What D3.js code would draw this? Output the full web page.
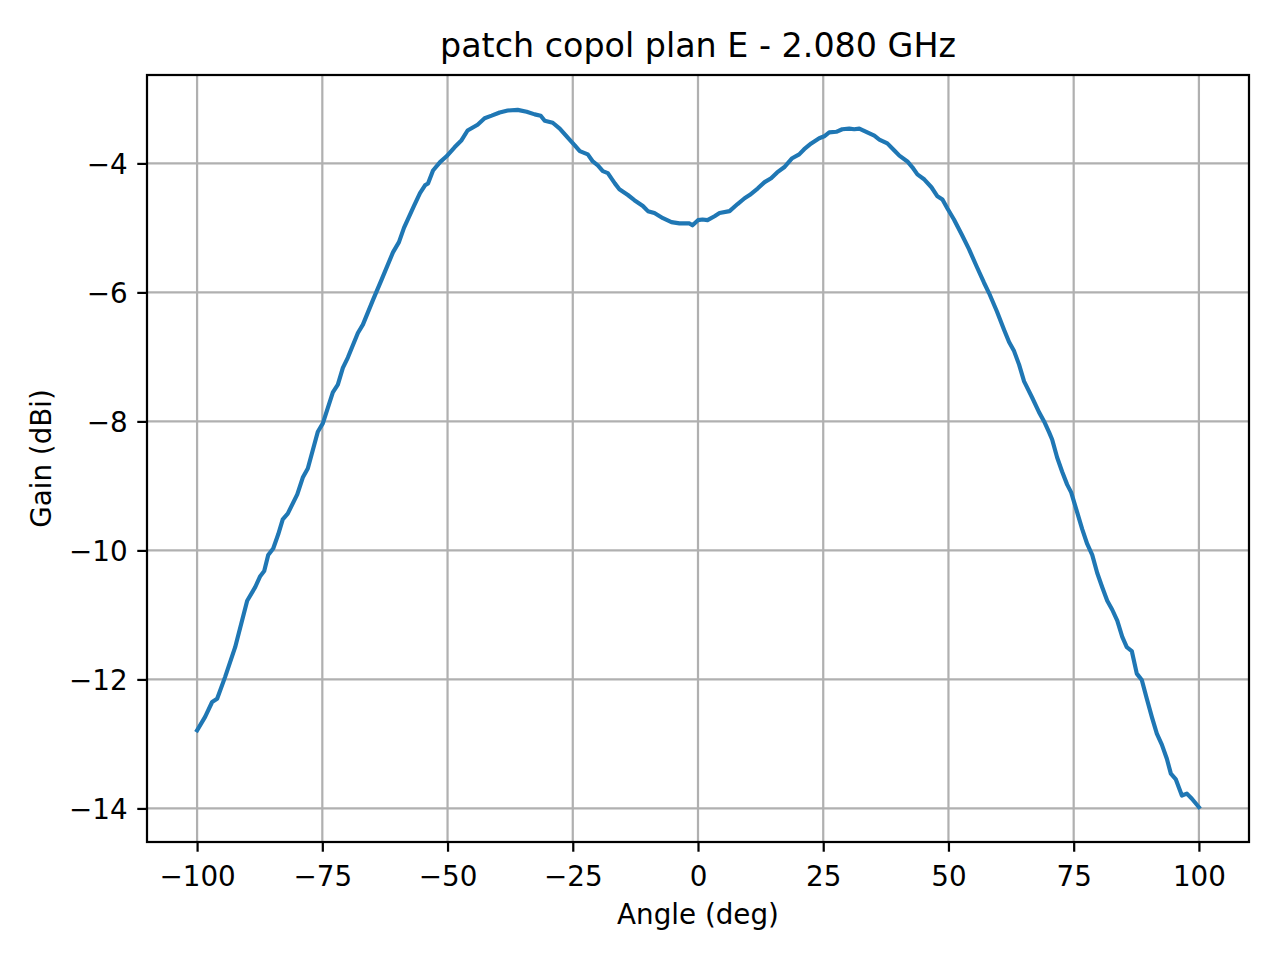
<!DOCTYPE html>
<html>
<head>
<meta charset="utf-8">
<script src="https://cdn.jsdelivr.net/npm/d3@7"></script>
<style>
  body { margin: 0; background: #fff; }
  svg { display: block; font-family: "DejaVu Sans", sans-serif; }
</style>
</head>
<body>
<svg id="chart" width="1280" height="960"></svg>
<script>
var angles = [
  -100, -98.4, -97, -96, -94.4, -92.4, -90, -88.4, -87.4, -86.6,
  -85.8, -84.8, -83.8, -82.9, -81.9, -80, -78.9, -77.9, -75.9, -74.9,
  -72.9, -71.9, -70.9, -69.9, -67.9, -66.9, -64.9, -63.1, -60.9, -59.7,
  -58.7, -56.7, -55.5, -54.5, -53.9, -52.9, -51.5, -50.2, -48.6, -47.2,
  -46, -44, -42.6, -41.2, -39.6, -38, -36, -34.2, -32.6, -31.4,
  -30.6, -29, -27.6, -26, -24.6, -23.6, -22, -21, -20, -19,
  -18, -16.6, -15.7, -14, -12.7, -11, -10, -8.7, -7, -5.3,
  -3.7, -1.7, -1.1, 0, 0.9, 1.9, 3.3, 4.3, 6.3, 7.9,
  9.3, 10.3, 11.9, 13.3, 14.6, 15.8, 17.2, 18.8, 20.2, 21.2,
  22.6, 24.2, 25.2, 26.2, 27.6, 28.8, 30.2, 31.2, 32.2, 33.8,
  35.2, 36.2, 37.8, 39.2, 40.2, 41.8, 42.8, 43.8, 45.2, 46.6,
  47.8, 48.8, 49.8, 51.1, 52.7, 54.1, 55.7, 57.1, 58.1, 59.7,
  61.1, 62.1, 63.1, 64.1, 65.1, 66.7, 68.1, 69.1, 70.1, 70.7,
  71.7, 72.7, 73.7, 74.5, 75.7, 76.7, 77.7, 78.7, 79.7, 80.7,
  81.7, 82.7, 83.7, 84.7, 85.6, 86.6, 87.6, 88.6, 89.6, 90.6,
  91.6, 92.6, 93.6, 94.4, 95.4, 96.6, 97.6, 98.6, 100
];
var gains = [
  -12.79, -12.58, -12.35, -12.30, -11.96, -11.50, -10.78, -10.57, -10.40, -10.32,
  -10.07, -9.97, -9.75, -9.52, -9.43, -9.13, -8.87, -8.73, -8.16, -8.03,
  -7.55, -7.43, -7.17, -7.01, -6.63, -6.50, -6.12, -5.79, -5.38, -5.22,
  -5.00, -4.66, -4.46, -4.34, -4.31, -4.11, -3.98, -3.89, -3.75, -3.64,
  -3.49, -3.40, -3.30, -3.26, -3.21, -3.18, -3.17, -3.20, -3.24, -3.26,
  -3.34, -3.37, -3.46, -3.60, -3.72, -3.81, -3.86, -3.97, -4.03, -4.12,
  -4.15, -4.31, -4.40, -4.49, -4.57, -4.66, -4.74, -4.77, -4.85, -4.91,
  -4.93, -4.93, -4.96, -4.88, -4.87, -4.88, -4.82, -4.77, -4.74, -4.63,
  -4.54, -4.49, -4.39, -4.29, -4.23, -4.14, -4.06, -3.92, -3.86, -3.78,
  -3.69, -3.61, -3.58, -3.52, -3.51, -3.47, -3.46, -3.47, -3.46, -3.52,
  -3.57, -3.63, -3.69, -3.80, -3.88, -3.97, -4.06, -4.17, -4.25, -4.37,
  -4.51, -4.56, -4.70, -4.87, -5.11, -5.33, -5.61, -5.85, -6.01, -6.30,
  -6.58, -6.77, -6.91, -7.12, -7.38, -7.63, -7.86, -8.00, -8.17, -8.28,
  -8.56, -8.78, -8.98, -9.10, -9.41, -9.67, -9.90, -10.07, -10.35, -10.57,
  -10.78, -10.92, -11.09, -11.34, -11.50, -11.56, -11.91, -12.01, -12.30, -12.58,
  -12.84, -13.01, -13.23, -13.46, -13.55, -13.80, -13.77, -13.85, -13.98
];
var xTicks = [-100, -75, -50, -25, 0, 25, 50, 75, 100];
var yTicks = [-14, -12, -10, -8, -6, -4];
var title = "patch copol plan E - 2.080 GHz";
var xLabel = "Angle (deg)";
var yLabel = "Gain (dBi)";

var PT = 200 / 72;   // points -> px at 200 dpi
// axes box (window.top is read-only, so prefixed names)
var axL = 147, axR = 1249, axT = 75, axB = 842;

var svg = d3.select("#chart");

// matplotlib style 5% margins
function padded(ext) {
  var d = (ext[1] - ext[0]) * 0.05;
  return [ext[0] - d, ext[1] + d];
}

var x = d3.scaleLinear().domain(padded(d3.extent(angles))).range([axL, axR]);
var y = d3.scaleLinear().domain(padded(d3.extent(gains))).range([axB, axT]);

var pts = angles.map(function(a, i) { return [a, gains[i]]; });

// GRID
var grid = svg.append("g").attr("stroke", "#b0b0b0").attr("stroke-width", 0.8 * PT);
grid.selectAll(".gx").data(xTicks).enter().append("line")
    .attr("x1", function(d) { return x(d); })
    .attr("x2", function(d) { return x(d); })
    .attr("y1", axT).attr("y2", axB);
grid.selectAll(".gy").data(yTicks).enter().append("line")
    .attr("y1", function(d) { return y(d); })
    .attr("y2", function(d) { return y(d); })
    .attr("x1", axL).attr("x2", axR);

// CURVE
svg.append("path")
    .datum(pts)
    .attr("fill", "none")
    .attr("stroke", "#1f77b4")
    .attr("stroke-width", 1.5 * PT)
    .attr("stroke-linejoin", "round")
    .attr("stroke-linecap", "square")
    .attr("d", d3.line().x(function(d) { return x(d[0]); }).y(function(d) { return y(d[1]); }));

// AXES
var fmt = d3.format("d");
var xAxis = svg.append("g")
    .attr("transform", "translate(0," + axB + ")")
    .call(d3.axisBottom(x).tickValues(xTicks).tickFormat(fmt)
      .tickSize(3.5 * PT).tickPadding(3.5 * PT).tickSizeOuter(0));
var yAxis = svg.append("g")
    .attr("transform", "translate(" + axL + ",0)")
    .call(d3.axisLeft(y).tickValues(yTicks).tickFormat(fmt)
      .tickSize(3.5 * PT).tickPadding(3.5 * PT).tickSizeOuter(0));

[xAxis, yAxis].forEach(function(ax) {
  ax.select(".domain").remove();
  ax.selectAll(".tick line").attr("stroke", "#000").attr("stroke-width", 0.8 * PT);
  ax.selectAll(".tick text")
      .attr("fill", "#000")
      .attr("font-size", 10 * PT)
      .attr("font-family", "DejaVu Sans");
});
xAxis.selectAll(".tick text").attr("dy", null).attr("y", 886 - axB);
yAxis.selectAll(".tick text").attr("dy", "0.36em");

// spines
svg.append("rect")
    .attr("x", axL).attr("y", axT)
    .attr("width", axR - axL).attr("height", axB - axT)
    .attr("fill", "none")
    .attr("stroke", "#000")
    .attr("stroke-width", 0.8 * PT);

// LABELS
svg.append("text")
    .attr("x", (axL + axR) / 2).attr("y", 57)
    .attr("text-anchor", "middle")
    .attr("font-size", 12 * PT)
    .text(title);

svg.append("text")
    .attr("x", (axL + axR) / 2).attr("y", 924)
    .attr("text-anchor", "middle")
    .attr("font-size", 10 * PT)
    .text(xLabel);

svg.append("text")
    .attr("transform", "translate(51," + (axT + axB) / 2 + ") rotate(-90)")
    .attr("text-anchor", "middle")
    .attr("font-size", 10 * PT)
    .text(yLabel);
</script>
</body>
</html>
